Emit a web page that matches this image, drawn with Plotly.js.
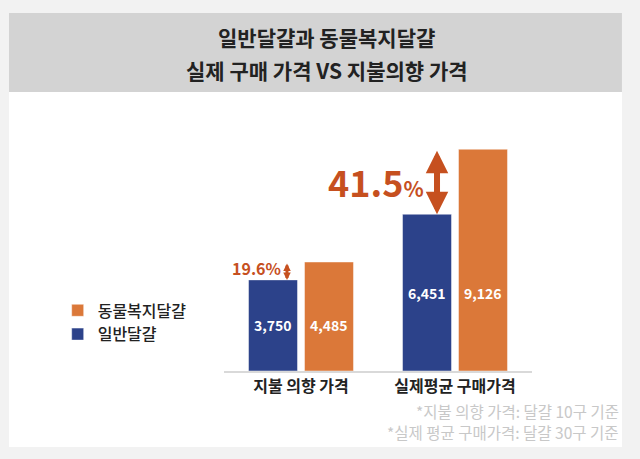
<!DOCTYPE html>
<html>
<head>
<meta charset="utf-8">
<script src="https://cdn.plot.ly/plotly-3.0.1.min.js"></script>
<style>
  html, body { margin: 0; padding: 0; background: #f2f2f2; }
  #plot { width: 640px; height: 459px; }
</style>
</head>
<body>
<div id="plot"></div>
<script>
// categories and values
var categories = ["지불 의향 가격", "실제평균 구매가격"];
var normalEgg = [3750, 6451];      // 일반달걀
var welfareEgg = [4485, 9126];     // 동물복지달걀
var gapLabels = ["19.6%", "41.5%"];
var titleLines = ["일반달걀과 동물복지달걀", "실제 구매 가격 VS 지불의향 가격"];
var notes = ["*지불 의향 가격: 달걀 10구 기준", "*실제 평균 구매가격: 달걀 30구 기준"];

var FONT = "'Noto Sans CJK KR', 'Noto Sans', sans-serif";
var BLUE = "#2c428a";
var ORANGE = "#db7839";
var RED = "#c6501f";

function fmt(v) { return v.toLocaleString("en-US"); }

var trace1 = {
    x: categories,
    y: normalEgg,
    name: "일반달걀",
    type: "bar",
    textposition: "none",
    marker: {color: BLUE, line: {color: "rgba(255,255,255,0.45)", width: 1}},
    hoverinfo: "none"
};

var trace2 = {
    x: categories,
    y: welfareEgg,
    name: "동물복지달걀",
    type: "bar",
    textposition: "none",
    marker: {color: ORANGE, line: {color: "rgba(255,255,255,0.45)", width: 1}},
    hoverinfo: "none"
};

var annotations = [];

// value labels, both at the height of the middle of the blue bar
categories.forEach(function (c, i) {
    annotations.push({
        xref: "x", yref: "y", x: c, y: normalEgg[i] / 2, xshift: -28,
        text: fmt(normalEgg[i]), showarrow: false,
        font: {family: FONT, size: 14, color: "#fff", weight: "bold"}
    });
    annotations.push({
        xref: "x", yref: "y", x: c, y: normalEgg[i] / 2, xshift: 28,
        text: fmt(welfareEgg[i]), showarrow: false,
        font: {family: FONT, size: 14, color: "#fff", weight: "bold"}
    });
});

// title lines
annotations.push({
    xref: "paper", yref: "paper", x: 0.334, y: 1.376, yanchor: "middle", showarrow: false,
    text: titleLines[0], font: {family: FONT, size: 21, color: "#222", weight: "bold"}
});
annotations.push({
    xref: "paper", yref: "paper", x: 0.334, y: 1.24, yanchor: "middle", showarrow: false,
    text: titleLines[1], font: {family: FONT, size: 21, color: "#222", weight: "bold"}
});

// big gap arrow
annotations.push({
    xref: "paper", yref: "y", x: 0.6916, y: normalEgg[1],
    ayref: "y", ay: welfareEgg[1], ax: 0,
    text: "", showarrow: true, arrowside: "end+start",
    arrowhead: 2, arrowwidth: 6, arrowsize: 0.75, arrowcolor: RED,
    standoff: 0, startstandoff: 0
});
annotations.push({
    xref: "paper", yref: "paper", x: 0.655, y: 0.782,
    xanchor: "right", yanchor: "middle", showarrow: false,
    text: gapLabels[1].replace("%", "") + "<span style='font-size:21px'>%</span>",
    font: {family: FONT, size: 36, color: RED, weight: "bold"}
});

// small gap arrow
annotations.push({
    xref: "paper", yref: "y", x: 0.2045, y: normalEgg[0],
    ayref: "y", ay: welfareEgg[0], ax: 0,
    text: "", showarrow: true, arrowside: "end+start",
    arrowhead: 2, arrowwidth: 3, arrowsize: 0.5, arrowcolor: RED,
    standoff: 0, startstandoff: 0
});
annotations.push({
    xref: "paper", yref: "paper", x: 0.19, y: 0.424,
    xanchor: "right", yanchor: "middle", showarrow: false,
    text: gapLabels[0],
    font: {family: FONT, size: 16, color: RED, weight: "bold"}
});

// footnotes
annotations.push({
    xref: "paper", yref: "paper", x: 1.288, y: -0.165,
    xanchor: "right", yanchor: "middle", showarrow: false,
    text: notes[0], font: {family: FONT, size: 15.5, color: "#c8c8c8"}
});
annotations.push({
    xref: "paper", yref: "paper", x: 1.288, y: -0.251,
    xanchor: "right", yanchor: "middle", showarrow: false,
    text: notes[1], font: {family: FONT, size: 15.5, color: "#c8c8c8"}
});

var shapes = [
    // title box
    {type: "rect", xref: "paper", yref: "paper", x0: -0.698, x1: 1.292, y0: 1.148, y1: 1.473,
     fillcolor: "#d3d3d3", line: {width: 0}, layer: "below"},
    // white panel
    {type: "rect", xref: "paper", yref: "paper", x0: -0.698, x1: 1.292, y0: -0.313, y1: 1.148,
     fillcolor: "#ffffff", line: {width: 0}, layer: "below"}
];

var layout = {
    width: 640,
    height: 459,
    margin: {l: 224, r: 108, t: 128, b: 88},
    paper_bgcolor: "#f2f2f2",
    plot_bgcolor: "rgba(0,0,0,0)",
    font: {family: FONT, color: "#222"},
    barmode: "group",
    bargap: 0.273,
    bargroupgap: 0.125,
    xaxis: {
        showline: true, linecolor: "#d9d9d9", linewidth: 2,
        ticks: "", showgrid: false,
        tickfont: {family: FONT, size: 16, color: "#222", weight: "bold"}
    },
    yaxis: {
        range: [0, 10000], visible: false, showgrid: false, zeroline: false
    },
    legend: {
        x: -0.54, xanchor: "left", y: 0.2, yanchor: "middle",
        traceorder: "reversed",
        itemwidth: 30,
        font: {family: FONT, size: 16, color: "#222", weight: 500},
        bgcolor: "rgba(0,0,0,0)"
    },
    annotations: annotations,
    shapes: shapes
};

Plotly.newPlot("plot", [trace1, trace2], layout, {displayModeBar: false, staticPlot: true});
</script>
</body>
</html>
